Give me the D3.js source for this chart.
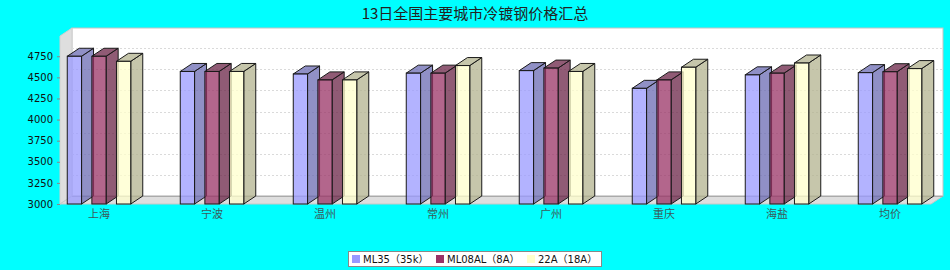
<!DOCTYPE html>
<html>
<head>
<meta charset="utf-8">
<script src="https://cdn.jsdelivr.net/npm/d3@7"></script>
<style>
  body { margin: 0; background: #00ffff; }
  svg { display: block; }
</style>
</head>
<body>
<svg id="chart" width="950" height="270"></svg>
<script>
const title = '13日全国主要城市冷镀钢价格汇总';
const cities = ['上海', '宁波', '温州', '常州', '广州', '重庆', '海盐', '均价'];
const seriesNames = ['ML35（35k）', 'ML08AL（8A）', '22A（18A）'];
const seriesColors = ['#9999ff', '#993366', '#ffffcc'];
const ml35 = [4750, 4570, 4540, 4550, 4580, 4370, 4530, 4556];
const ml08al = [4750, 4570, 4470, 4550, 4610, 4470, 4550, 4567];
const a22 = [4690, 4570, 4470, 4640, 4570, 4620, 4670, 4604];
const yTicks = [3000, 3250, 3500, 3750, 4000, 4250, 4500, 4750];

const values = [ml35, ml08al, a22];
const svg = d3.select('#chart');

// 3d offsets
const dx = 12, dy = 8;
const plotL = 60, plotR = 931, plotT = 36, plotB = 204;

const y = d3.scaleLinear().domain([3000, 4990]).range([plotB, plotT]);
const x = d3.scaleBand().domain(cities).range([plotL, plotR])
  .paddingInner(0.438).paddingOuter(0.073).align(0.44);
const xs = d3.scaleBand().domain(d3.range(3)).range([0, x.bandwidth()])
  .paddingInner(0.419).paddingOuter(0);

// title
svg.append('text')
  .attr('x', 475).attr('y', 19)
  .attr('text-anchor', 'middle')
  .style('font-family', '"Noto Sans CJK SC", sans-serif')
  .style('font-size', '15px')
  .attr('fill', '#222')
  .text(title);

// back wall
svg.append('rect')
  .attr('x', plotL + dx).attr('y', plotT - dy)
  .attr('width', plotR - plotL).attr('height', plotB - plotT)
  .attr('fill', '#fff').attr('stroke', '#c4c4c4');

// left wall
svg.append('path')
  .attr('d', `M${plotL},${plotT}L${plotL + dx},${plotT - dy}L${plotL + dx},${plotB - dy}L${plotL},${plotB}Z`)
  .attr('fill', '#dedede').attr('stroke', '#cfcfcf');

// floor
svg.append('path')
  .attr('d', `M${plotL},${plotB}L${plotL + dx},${plotB - dy}L${plotR + dx},${plotB - dy}L${plotR},${plotB}Z`)
  .attr('fill', '#dedede').attr('stroke', '#c8c8c8');
svg.append('line')
  .attr('x1', plotL + dx).attr('x2', plotR + dx)
  .attr('y1', plotB - dy + 0.5).attr('y2', plotB - dy + 0.5)
  .attr('stroke', '#aaa');

// gridlines on back wall
svg.append('g').selectAll('line')
  .data(yTicks.slice(1))
  .enter()
  .append('line')
  .attr('x1', plotL + dx).attr('x2', plotR + dx)
  .attr('y1', d => Math.round(y(d) - dy) + 0.5)
  .attr('y2', d => Math.round(y(d) - dy) + 0.5)
  .attr('stroke', '#dadada')
  .attr('stroke-dasharray', '2,2');

// y axis
const yAxis = d3.axisLeft(y).tickValues(yTicks).tickFormat(d3.format('d'))
  .tickSize(3).tickPadding(4);
const yG = svg.append('g')
  .attr('transform', `translate(${plotL},0)`)
  .call(yAxis);
yG.select('.domain').remove();
yG.selectAll('.tick line').attr('stroke', '#888');
yG.selectAll('.tick text')
  .style('font-family', '"DejaVu Sans", sans-serif')
  .style('font-size', '10px')
  .attr('fill', '#111');

// bars
const barsG = svg.append('g');
cities.forEach((c, i) => {
  values.forEach((vals, s) => {
    const x0 = x(c) + xs(s);
    const x1 = x0 + xs.bandwidth();
    const yt = y(vals[i]);
    const base = d3.rgb(seriesColors[s]);
    const dark = base.darker(1);
    const g = barsG.append('g').attr('class', 'bar');
    g.append('path')
      .attr('d', `M${x1},${yt}L${x1 + dx},${yt - dy}L${x1 + dx},${plotB - dy}L${x1},${plotB}Z`)
      .attr('fill', dark).attr('fill-opacity', 0.75)
      .attr('stroke', '#1a1a1a').attr('stroke-width', 1).attr('stroke-linejoin', 'round');
    g.append('path')
      .attr('d', `M${x0},${yt}L${x0 + dx},${yt - dy}L${x1 + dx},${yt - dy}L${x1},${yt}Z`)
      .attr('fill', dark).attr('fill-opacity', 0.75)
      .attr('stroke', '#1a1a1a').attr('stroke-width', 1).attr('stroke-linejoin', 'round');
    g.append('rect')
      .attr('x', x0).attr('y', yt)
      .attr('width', x1 - x0).attr('height', plotB - yt)
      .attr('fill', base).attr('fill-opacity', 0.75)
      .attr('stroke', '#1a1a1a').attr('stroke-width', 1);
  });
});

// category labels
svg.append('g').selectAll('text')
  .data(cities)
  .enter()
  .append('text')
  .attr('x', d => x(d) + x.bandwidth() / 2)
  .attr('y', 218)
  .attr('text-anchor', 'middle')
  .style('font-family', '"Noto Sans CJK SC", sans-serif')
  .style('font-size', '11px')
  .attr('fill', '#3a5a5a')
  .text(d => d);

// legend
const legendG = svg.append('g');
legendG.append('rect')
  .attr('x', 348.5).attr('y', 251.5)
  .attr('width', 253).attr('height', 15)
  .attr('fill', '#fff').attr('stroke', '#888');
const legendX = [352, 436, 527];
seriesNames.forEach((name, s) => {
  legendG.append('rect')
    .attr('x', legendX[s]).attr('y', 255)
    .attr('width', 8).attr('height', 8)
    .attr('fill', seriesColors[s]);
  legendG.append('text')
    .attr('x', legendX[s] + 11).attr('y', 263)
    .style('font-family', '"DejaVu Sans", "Noto Sans CJK SC", sans-serif')
    .style('font-size', '10px')
    .attr('fill', '#111')
    .text(name);
});
</script>
</body>
</html>
